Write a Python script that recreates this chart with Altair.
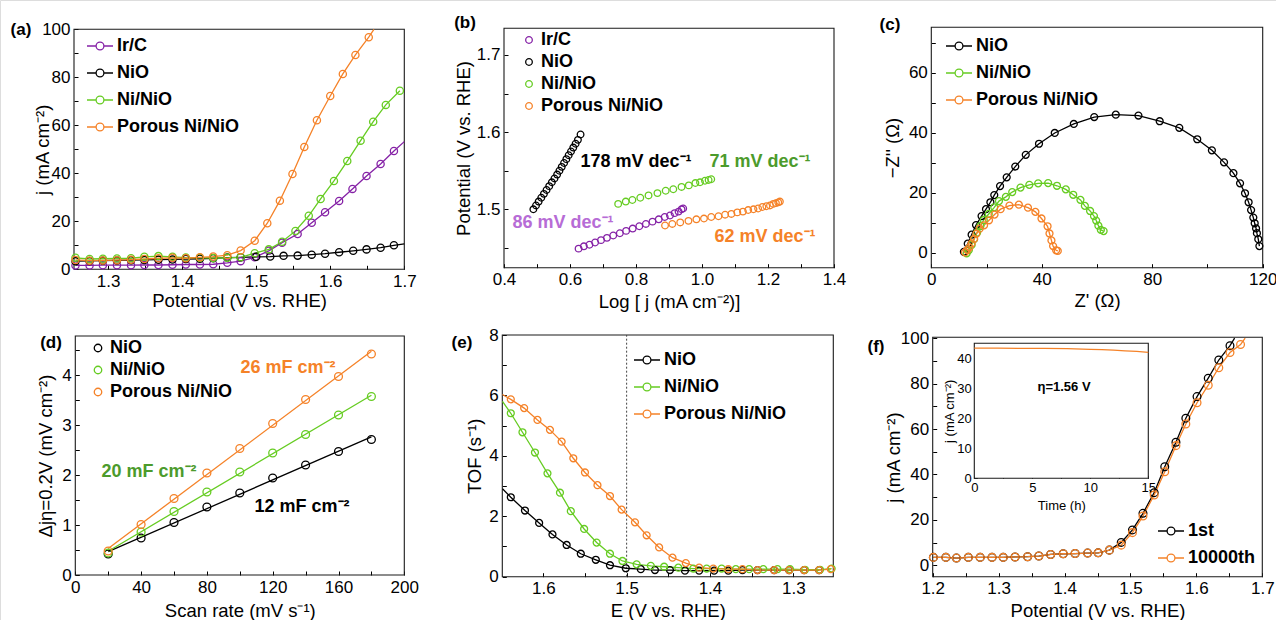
import altair as alt
import pandas as pd

W, H = 1276, 620
FONT = "Liberation Sans"
PURPLE, BLACK, GREEN, ORANGE = "#8521A6", "#000000", "#66CC22", "#F58228"
GREEN_TXT, PURPLE_TXT = "#4C9B2C", "#B76CD6"

# ---------------- (a) LSV curves ----------------
a_names = ["Ir/C", "NiO", "Ni/NiO", "Porous Ni/NiO"]
a_colors = [PURPLE, BLACK, GREEN, ORANGE]
a_v_low = [1.256, 1.275, 1.293, 1.312, 1.331, 1.349, 1.368, 1.387, 1.405, 1.424, 1.442, 1.461]
a_ir_v = a_v_low + [1.479, 1.498, 1.517, 1.535, 1.556, 1.575, 1.593, 1.612, 1.630, 1.649, 1.668, 1.686]
a_ir_j = [1.6, 1.6, 1.7, 1.7, 1.7, 1.8, 1.8, 1.9, 2.0, 2.0, 2.1, 2.7,
          3.4, 5.0, 7.7, 11.1, 14.7, 19.4, 23.8, 28.5, 33.5, 38.9, 43.9, 49.3]
a_nio_v = a_v_low + [1.479, 1.500, 1.519, 1.537, 1.556, 1.575, 1.593, 1.612, 1.631, 1.649, 1.668, 1.686]
a_nio_j = [3.4, 3.5, 3.6, 3.7, 3.8, 3.9, 4.0, 4.1, 4.3, 4.4, 4.6, 4.9,
           5.0, 5.2, 5.3, 5.6, 5.7, 6.1, 6.5, 7.1, 7.7, 8.3, 9.0, 10.0]
a_ni_v = a_v_low + [1.479, 1.498, 1.517, 1.535, 1.553, 1.571, 1.587, 1.605, 1.623, 1.641, 1.658, 1.675, 1.694]
a_ni_j = [4.8, 4.3, 4.4, 4.5, 4.6, 5.2, 5.5, 5.2, 4.9, 4.8, 4.7, 4.8,
          5.0, 6.7, 8.3, 11.5, 16.0, 22.3, 29.3, 36.8, 45.1, 53.6, 61.5, 68.5, 74.4]
a_po_v = a_v_low + [1.479, 1.498, 1.515, 1.532, 1.549, 1.565, 1.582, 1.600, 1.617, 1.634, 1.652]
a_po_j = [3.9, 3.6, 3.7, 3.8, 4.0, 4.3, 4.6, 4.8, 4.6, 5.0, 5.3, 5.9,
          7.8, 11.9, 19.2, 28.6, 39.7, 51.0, 62.1, 72.2, 81.4, 89.3, 96.7]
a_edge = {"Ir/C": (1.700, 53.2), "NiO": (1.700, 10.6), "Porous Ni/NiO": (1.659, 100.0)}

# ---------------- (b) Tafel ----------------
b_ir_x = [0.626, 0.642, 0.659, 0.676, 0.694, 0.712, 0.731, 0.751, 0.770, 0.790,
          0.810, 0.830, 0.850, 0.869, 0.887, 0.903, 0.917, 0.929, 0.938, 0.943]
b_ir_y = [1.449, 1.452, 1.454, 1.457, 1.460, 1.463, 1.466, 1.469, 1.472, 1.475,
          1.478, 1.481, 1.484, 1.487, 1.490, 1.492, 1.495, 1.497, 1.500, 1.501]
b_nio_x = [0.489, 0.497, 0.505, 0.513, 0.521, 0.529, 0.537, 0.545, 0.553, 0.561,
           0.568, 0.575, 0.582, 0.589, 0.596, 0.603, 0.610, 0.617, 0.624, 0.632]
b_nio_y = [1.500, 1.505, 1.510, 1.515, 1.520, 1.525, 1.530, 1.535, 1.540, 1.545,
           1.550, 1.555, 1.560, 1.565, 1.570, 1.575, 1.580, 1.585, 1.590, 1.597]
b_ni_x = [0.746, 0.769, 0.789, 0.813, 0.838, 0.865, 0.890, 0.913, 0.938, 0.960,
          0.980, 0.994, 1.009, 1.020, 1.028]
b_ni_y = [1.507, 1.510, 1.512, 1.515, 1.518, 1.521, 1.524, 1.526, 1.529, 1.531,
          1.534, 1.535, 1.537, 1.538, 1.539]
b_po_x = [0.888, 0.910, 0.934, 0.959, 0.983, 1.006, 1.028, 1.050, 1.070, 1.089, 1.107,
          1.124, 1.140, 1.156, 1.170, 1.183, 1.195, 1.206, 1.216, 1.224, 1.231, 1.236]
b_po_y = [1.479, 1.481, 1.483, 1.485, 1.487, 1.488, 1.490, 1.491, 1.493, 1.494, 1.496,
          1.497, 1.499, 1.500, 1.501, 1.503, 1.504, 1.505, 1.507, 1.508, 1.509, 1.510]

# ---------------- (c) Nyquist ----------------
c_names = ["NiO", "Ni/NiO", "Porous Ni/NiO"]
c_colors = [BLACK, GREEN, ORANGE]
c_nio_x = [11.8, 13.2, 14.6, 16.2, 18.2, 19.8, 21.4, 22.8, 24.9, 27.3, 30.4, 34.2, 39.0, 44.7,
           51.6, 59.0, 66.8, 75.0, 82.7, 89.8, 96.3, 101.6, 106.0, 109.4, 111.8, 113.6, 114.9,
           115.8, 116.6, 117.1, 117.6, 117.9, 118.4, 118.8]
c_nio_y = [0.3, 3.0, 6.0, 9.2, 12.2, 14.5, 16.8, 19.2, 22.2, 25.1, 28.7, 32.6, 36.3, 39.9,
           42.9, 45.2, 46.0, 45.7, 43.8, 41.6, 37.8, 34.1, 30.1, 26.5, 23.1, 19.8, 16.8,
           14.2, 11.7, 9.8, 8.1, 6.5, 4.5, 2.2]
c_ni_x = [12.8, 13.6, 14.6, 15.5, 16.6, 17.8, 19.0, 20.8, 22.8, 24.5, 27.0, 29.3, 32.3, 35.5,
          38.7, 42.3, 45.5, 48.7, 51.4, 54.0, 55.6, 57.5, 58.9, 59.7, 60.5, 61.4, 62.4]
c_ni_y = [-0.2, 0.9, 2.6, 4.5, 6.7, 8.9, 10.9, 12.9, 15.1, 17.2, 18.6, 20.2, 21.7, 22.6,
          23.1, 23.2, 22.3, 21.1, 19.3, 17.6, 15.6, 13.9, 12.2, 10.7, 9.0, 7.6, 7.2]
c_po_x = [12.2, 13.0, 13.8, 14.6, 15.5, 16.3, 17.5, 19.1, 20.9, 22.9, 25.1, 28.3, 31.7, 35.0,
          37.7, 39.9, 42.1, 42.8, 43.5, 44.1, 45.2, 45.8]
c_po_y = [0.1, 0.9, 1.8, 3.1, 4.6, 6.3, 8.0, 9.1, 10.8, 12.7, 14.5, 15.7, 16.0, 15.0,
          13.6, 11.4, 8.8, 6.4, 4.1, 2.2, 0.8, 0.6]

# ---------------- (d) double-layer capacitance ----------------
d_rate = [20, 40, 60, 80, 100, 120, 140, 160, 180]
d_nio = [0.42, 0.74, 1.05, 1.36, 1.64, 1.94, 2.20, 2.47, 2.71]
d_ni = [0.44, 0.86, 1.27, 1.66, 2.06, 2.44, 2.81, 3.20, 3.57]
d_po = [0.48, 1.01, 1.53, 2.04, 2.53, 3.03, 3.51, 3.97, 4.42]

# ---------------- (e) TOF ----------------
e_nio_x = [1.639, 1.622, 1.605, 1.589, 1.572, 1.555, 1.537, 1.520, 1.501, 1.483, 1.466,
           1.448, 1.430, 1.413, 1.395, 1.378, 1.361, 1.343, 1.323, 1.305, 1.287, 1.269]
e_nio_y = [2.63, 2.19, 1.78, 1.40, 1.05, 0.76, 0.56, 0.38, 0.28, 0.25, 0.22,
           0.22, 0.20, 0.20, 0.20, 0.20, 0.22, 0.22, 0.22, 0.22, 0.22, 0.22]
e_ni_x = [1.639, 1.625, 1.610, 1.595, 1.580, 1.567, 1.551, 1.536, 1.520, 1.505, 1.488, 1.471,
          1.455, 1.438, 1.420, 1.404, 1.386, 1.369, 1.353, 1.336, 1.319, 1.304, 1.286, 1.268, 1.254]
e_ni_y = [5.41, 4.78, 4.11, 3.42, 2.78, 2.17, 1.58, 1.13, 0.76, 0.52, 0.41, 0.36,
          0.33, 0.30, 0.27, 0.27, 0.27, 0.25, 0.25, 0.25, 0.25, 0.25, 0.23, 0.23, 0.27]
e_po_x = [1.639, 1.623, 1.607, 1.592, 1.578, 1.564, 1.550, 1.535, 1.520, 1.506, 1.490, 1.476,
          1.461, 1.445, 1.429, 1.413, 1.396, 1.378, 1.361, 1.343, 1.323, 1.305, 1.287, 1.269, 1.255]
e_po_y = [5.87, 5.58, 5.19, 4.86, 4.47, 3.92, 3.45, 3.03, 2.67, 2.22, 1.80, 1.37,
          0.97, 0.63, 0.45, 0.30, 0.27, 0.25, 0.25, 0.22, 0.22, 0.22, 0.22, 0.22, 0.25]
e_edge = {"NiO": (1.649, 2.91), "Ni/NiO": (1.649, 5.80), "Porous Ni/NiO": (1.649, 6.03)}

# ---------------- (f) stability ----------------
f_names = ["1st", "10000th"]
f_colors = [BLACK, ORANGE]
f_v_low = [1.201, 1.220, 1.236, 1.254, 1.272, 1.290, 1.307, 1.325, 1.344, 1.361, 1.379,
           1.398, 1.416, 1.435, 1.451, 1.468]
f_j_low = [3.5, 3.5, 3.2, 3.5, 3.5, 3.5, 3.5, 3.7, 3.8, 4.1, 4.8, 5.1, 5.2, 5.4, 5.5, 6.7]
f_1st_v = f_v_low + [1.486, 1.503, 1.519, 1.536, 1.552, 1.569, 1.584, 1.601, 1.618, 1.634, 1.651]
f_1st_j = f_j_low + [10.1, 15.6, 22.9, 32.0, 43.4, 54.2, 64.8, 74.3, 82.4, 90.4, 96.7]
f_10k_v = f_v_low + [1.486, 1.503, 1.519, 1.536, 1.552, 1.569, 1.584, 1.601, 1.618, 1.634, 1.651, 1.667]
f_10k_j = f_j_low + [8.9, 14.4, 21.7, 31.0, 41.2, 52.7, 62.2, 71.6, 79.3, 87.0, 93.7, 97.2]
f_edge = {"1st": (1.658, 100.0), "10000th": (1.674, 100.0)}
inset_t = [0, 2, 4, 6, 8, 10, 11, 12, 13, 14, 15]
inset_j = [43.4, 43.4, 43.3, 43.3, 43.2, 43.0, 42.9, 42.7, 42.5, 42.3, 42.0]

# ---------------- layout (pixel placement of each panel) ----------------
P = {
    "a": dict(xd=[1.254, 1.7], xr=[74, 404.3], yd=[0, 100], yr=[269.3, 29.3]),
    "b": dict(xd=[0.4, 1.4], xr=[504, 834], yd=[1.4243, 1.7346], yr=[267.7, 28.3]),
    "c": dict(xd=[0, 120], xr=[931.3, 1262.7], yd=[-5, 75.1], yr=[267.7, 27.3]),
    "d": dict(xd=[0, 200], xr=[75.3, 404.3], yd=[0, 4.78], yr=[575, 336]),
    "e": dict(xd=[1.252, 1.6492], xr=[833.3, 502.3], yd=[0, 8], yr=[576.7, 335]),
    "f": dict(xd=[1.2, 1.7], xr=[932.7, 1262.3], yd=[-5, 100.4], yr=[576.7, 337.3]),
    "in": dict(xd=[0, 15], xr=[974.3, 1148.3], yd=[0, 45], yr=[478.3, 343.3]),
}
ONE = pd.DataFrame({"k": [0]})
LINE_SYM = "M-1,0L-0.3,0M0.3,0L1,0M-0.3,0A0.3,0.3,0,1,1,0.3,0A0.3,0.3,0,1,1,-0.3,0"
LSIZE, TSIZE = 17, 18.5


def sc(p):
    g = P[p]
    return (alt.Scale(domain=g["xd"], range=g["xr"], nice=False, zero=False),
            alt.Scale(domain=g["yd"], range=g["yr"], nice=False, zero=False))


def long_df(series, edges=None, prepend=False):
    rows = []
    for name, xs, ys in series:
        pts = list(zip(xs, ys))
        if edges and name in edges:
            if prepend:
                pts.insert(0, edges[name])
            else:
                pts.append(edges[name])
        for i, (x, y) in enumerate(pts):
            rows.append({"s": name, "x": x, "y": y, "i": i})
    return pd.DataFrame(rows)


def lab_expr(major, fmt):
    return (f"abs(datum.value/{major} - round(datum.value/{major})) < 0.001 ? "
            f"format(datum.value, '{fmt}') : ''")


def ax_bottom(p, values, major, fmt, title, title_y, lsize=LSIZE, tsize=TSIZE, tick=4, lpad=4):
    base = P[p]["yr"][0] - tick
    return alt.Axis(orient="bottom", offset=base - H, values=values, labelExpr=lab_expr(major, fmt),
                    domain=False, ticks=True, tickSize=tick, tickWidth=1, tickColor="black",
                    grid=False, labelFontSize=lsize, labelPadding=lpad, labelFlush=False,
                    labelOverlap=False, labelColor="black", labelFont=FONT,
                    title=title, titleFontSize=tsize, titleFont=FONT, titleFontWeight="normal",
                    titleColor="black", titleY=title_y - base, titleBaseline="middle")


def ax_left(p, values, major, fmt, title, title_x, lsize=LSIZE, tsize=TSIZE, tick=4, lpad=4):
    base = min(P[p]["xr"]) + tick
    return alt.Axis(orient="left", offset=-base, values=values, labelExpr=lab_expr(major, fmt),
                    domain=False, ticks=True, tickSize=tick, tickWidth=1, tickColor="black",
                    grid=False, labelFontSize=lsize, labelPadding=lpad, labelFlush=False,
                    labelOverlap=False, labelColor="black", labelFont=FONT,
                    title=title, titleFontSize=tsize, titleFont=FONT, titleFontWeight="normal",
                    titleColor="black", titleX=title_x - base, titleBaseline="middle")


def leg(x, y, symbol, size, offset=3):
    return alt.Legend(orient="none", legendX=x, legendY=y, title=None, symbolType=symbol,
                      symbolSize=size, symbolStrokeWidth=1.3, symbolFillColor="transparent",
                      labelFont=FONT, labelFontSize=18, labelFontWeight="bold", labelColor="black",
                      rowPadding=4, labelOffset=offset, padding=0)


def frame(p, fill="transparent", sw=1.1):
    xs, ys = sc(p)
    g = P[p]
    return alt.Chart(ONE).mark_rect(fill=fill, stroke="#1a1a1a", strokeWidth=sw).encode(
        x=alt.XDatum(g["xd"][0], type="quantitative", scale=xs, axis=None),
        x2=alt.X2Datum(g["xd"][1]),
        y=alt.YDatum(g["yd"][0], type="quantitative", scale=ys, axis=None),
        y2=alt.Y2Datum(g["yd"][1]))


def axes_layer(p, xaxis, yaxis):
    xs, ys = sc(p)
    g = P[p]
    return alt.Chart(ONE).mark_point(opacity=0).encode(
        x=alt.XDatum(g["xd"][0], type="quantitative", scale=xs, axis=xaxis),
        y=alt.YDatum(g["yd"][0], type="quantitative", scale=ys, axis=yaxis))


def pts(p, df, names, colors, size, legend=None):
    xs, ys = sc(p)
    return alt.Chart(df).mark_point(filled=False, size=size, strokeWidth=1.3, opacity=1).encode(
        x=alt.X("x:Q", scale=xs, axis=None),
        y=alt.Y("y:Q", scale=ys, axis=None),
        color=alt.Color("s:N", scale=alt.Scale(domain=names, range=colors), legend=legend))


def lines(p, df, names, colors, sw=1.3):
    xs, ys = sc(p)
    return alt.Chart(df).mark_line(strokeWidth=sw).encode(
        x=alt.X("x:Q", scale=xs, axis=None),
        y=alt.Y("y:Q", scale=ys, axis=None),
        color=alt.Color("s:N", scale=alt.Scale(domain=names, range=colors), legend=None),
        order="i:Q")


def text(t, x, y, color="black", size=18, weight="bold", align="center"):
    return alt.Chart(ONE).mark_text(text=t, font=FONT, fontSize=size, fontWeight=weight,
                                    color=color, align=align, baseline="middle").encode(
        x=alt.value(x), y=alt.value(y))


layers = []

# (a)
a_series = [("Ir/C", a_ir_v, a_ir_j), ("NiO", a_nio_v, a_nio_j),
            ("Ni/NiO", a_ni_v, a_ni_j), ("Porous Ni/NiO", a_po_v, a_po_j)]
layers += [
    frame("a"),
    axes_layer("a",
               ax_bottom("a", [1.3, 1.35, 1.4, 1.45, 1.5, 1.55, 1.6, 1.65, 1.7], 0.1, ".1f",
                         "Potential (V vs. RHE)", 300),
               ax_left("a", [0, 10, 20, 30, 40, 50, 60, 70, 80, 90, 100], 20, "d",
                       "j (mA cm⁻²)", 42)),
    lines("a", long_df(a_series, a_edge), a_names, a_colors),
    pts("a", long_df(a_series), a_names, a_colors, 52, leg(86, 32, LINE_SYM, 676)),
    text("(a)", 21, 30, size=17),
]

# (b)
b_series = [("Ir/C", b_ir_x, b_ir_y), ("NiO", b_nio_x, b_nio_y),
            ("Ni/NiO", b_ni_x, b_ni_y), ("Porous Ni/NiO", b_po_x, b_po_y)]
layers += [
    frame("b"),
    axes_layer("b",
               ax_bottom("b", [0.4, 0.5, 0.6, 0.7, 0.8, 0.9, 1.0, 1.1, 1.2, 1.3, 1.4], 0.2, ".1f",
                         "Log [ j (mA cm⁻²)]", 301),
               ax_left("b", [1.45, 1.5, 1.55, 1.6, 1.65, 1.7], 0.1, ".1f",
                       "Potential (V vs. RHE)", 463)),
    pts("b", long_df(b_series), a_names, a_colors, 44, leg(520, 31, "circle", 44)),
    text("178 mV dec⁻¹", 636, 162),
    text("71 mV dec⁻¹", 760, 162, GREEN_TXT),
    text("86 mV dec⁻¹", 563, 223, PURPLE_TXT),
    text("62 mV dec⁻¹", 765, 237, ORANGE),
    text("(b)", 465, 23, size=17),
]

# (c)
c_series = [("NiO", c_nio_x, c_nio_y), ("Ni/NiO", c_ni_x, c_ni_y),
            ("Porous Ni/NiO", c_po_x, c_po_y)]
layers += [
    frame("c"),
    axes_layer("c",
               ax_bottom("c", [0, 20, 40, 60, 80, 100, 120], 40, "d", "Z' (Ω)", 300),
               ax_left("c", [0, 10, 20, 30, 40, 50, 60, 70], 20, "d", "−Z'' (Ω)", 892)),
    lines("c", long_df(c_series), c_names, c_colors),
    pts("c", long_df(c_series), c_names, c_colors, 48, leg(945, 32, LINE_SYM, 676)),
    text("(c)", 890, 25, size=17),
]

# (d)
d_series = [("NiO", d_rate, d_nio), ("Ni/NiO", d_rate, d_ni), ("Porous Ni/NiO", d_rate, d_po)]
d_df = long_df(d_series)
dxs, dys = sc("d")
layers += [
    frame("d"),
    axes_layer("d",
               ax_bottom("d", [0, 20, 40, 60, 80, 100, 120, 140, 160, 180, 200], 40, "d",
                         "Scan rate (mV s⁻¹)", 610),
               ax_left("d", [0, 0.5, 1, 1.5, 2, 2.5, 3, 3.5, 4, 4.5], 1, "d",
                       "Δjη=0.2V (mV cm⁻²)", 45)),
    alt.Chart(d_df).transform_regression("x", "y", groupby=["s"], extent=[20, 180])
    .mark_line(strokeWidth=1.3).encode(
        x=alt.X("x:Q", scale=dxs, axis=None), y=alt.Y("y:Q", scale=dys, axis=None),
        color=alt.Color("s:N", scale=alt.Scale(domain=c_names, range=c_colors), legend=None)),
    pts("d", d_df, c_names, c_colors, 62, leg(89, 339, "circle", 56)),
    text("26 mF cm⁻²", 288, 368, ORANGE),
    text("20 mF cm⁻²", 149, 472, GREEN_TXT),
    text("12 mF cm⁻²", 302, 507),
    text("(d)", 51, 343, size=17),
]

# (e)
e_series = [("NiO", e_nio_x, e_nio_y), ("Ni/NiO", e_ni_x, e_ni_y),
            ("Porous Ni/NiO", e_po_x, e_po_y)]
exs, eys = sc("e")
layers += [
    frame("e"),
    axes_layer("e",
               ax_bottom("e", [1.3, 1.35, 1.4, 1.45, 1.5, 1.55, 1.6], 0.1, ".1f",
                         "E (V vs. RHE)", 610),
               ax_left("e", [0, 1, 2, 3, 4, 5, 6, 7, 8], 2, "d", "TOF (s⁻¹)", 474)),
    alt.Chart(ONE).mark_rule(strokeDash=[2, 2], color="#444444", strokeWidth=1).encode(
        x=alt.XDatum(1.5, type="quantitative", scale=exs, axis=None),
        y=alt.YDatum(0, type="quantitative", scale=eys, axis=None),
        y2=alt.Y2Datum(8)),
    lines("e", long_df(e_series, e_edge, prepend=True), c_names, c_colors),
    pts("e", long_df(e_series), c_names, c_colors, 48, leg(633, 346, LINE_SYM, 676)),
    text("(e)", 462, 343, size=17),
]

# (f)
f_series = [("1st", f_1st_v, f_1st_j), ("10000th", f_10k_v, f_10k_j)]
ixs, iys = sc("in")
layers += [
    frame("f"),
    axes_layer("f",
               ax_bottom("f", [1.2, 1.25, 1.3, 1.35, 1.4, 1.45, 1.5, 1.55, 1.6, 1.65, 1.7], 0.1,
                         ".1f", "Potential (V vs. RHE)", 610),
               ax_left("f", [0, 10, 20, 30, 40, 50, 60, 70, 80, 90, 100], 20, "d",
                       "j (mA cm⁻²)", 893)),
    lines("f", long_df(f_series, f_edge), f_names, f_colors),
    pts("f", long_df(f_series), f_names, f_colors, 60, leg(1157, 517, LINE_SYM, 676)),
    text("(f)", 876, 347, size=17),
    # inset
    frame("in", fill="white"),
    axes_layer("in",
               ax_bottom("in", [0, 2.5, 5, 7.5, 10, 12.5, 15], 5, "d", "Time (h)", 505,
                         lsize=13, tsize=13, tick=3, lpad=3),
               ax_left("in", [0, 5, 10, 15, 20, 25, 30, 35, 40], 10, "d", "j (mA cm⁻²)", 949,
                       lsize=13, tsize=13, tick=3, lpad=3)),
    alt.Chart(pd.DataFrame({"x": inset_t, "y": inset_j})).mark_line(
        color=ORANGE, strokeWidth=1.3).encode(
        x=alt.X("x:Q", scale=ixs, axis=None), y=alt.Y("y:Q", scale=iys, axis=None)),
    text("η=1.56 V", 1064, 387, size=13),
]

chart = (
    alt.layer(*layers)
    .resolve_scale(x="independent", y="independent", color="independent")
    .resolve_axis(x="independent", y="independent")
    .resolve_legend(color="independent")
    .properties(width=W, height=H, padding=0, autosize=alt.AutoSizeParams(type="none"))
    .configure_view(stroke=None)
    .configure(background="white")
)

chart.save("out.html", embed_options={"renderer": "svg", "actions": False})
